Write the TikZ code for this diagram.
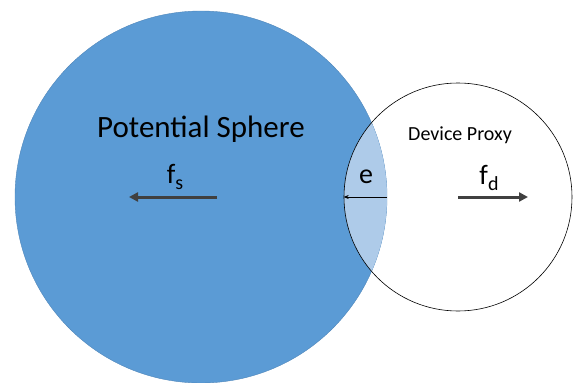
\documentclass[tikz,border=0pt]{standalone}
\usepackage{fontspec}
\setmainfont{Carlito}
\usetikzlibrary{arrows.meta}
\definecolor{sphereblue}{HTML}{5B9BD5}
\definecolor{sphereedge}{HTML}{4F86BA}
\definecolor{overlapblue}{HTML}{AECBE9}
\definecolor{forcegray}{HTML}{404040}
\newcommand{\lowsub}[1]{\raisebox{-6pt}{\fontsize{20}{24}\selectfont #1}}
\tikzset{
  forcearrow/.style={line width=3pt, color=forcegray, -{Triangle[length=9pt,width=9pt]}},
  gaparrow/.style={line width=0.6pt, color=black, -{Stealth[length=5pt,width=4pt]}},
  lbl/.style={inner sep=0pt, text=black}
}
\begin{document}
\begin{tikzpicture}[x=1pt,y=-1pt]
  \useasboundingbox (0,0) rectangle (582,383);
  % potential sphere
  \fill[sphereblue] (201,197) circle (186);
  \draw[sphereedge, line width=0.4pt] (201,197) circle (186);
  % overlap with the device proxy
  \begin{scope}
    \clip (201,197) circle (186);
    \fill[overlapblue] (458,197) circle (114);
  \end{scope}
  % device proxy
  \node[circle, draw=black, line width=0.6pt, minimum size=228pt, inner sep=0pt] (proxy) at (458,197) {};
  \node[circle, minimum size=372pt, inner sep=0pt] (sphere) at (201,197) {};
  % labels
  \node[lbl, font=\fontsize{31}{36}\selectfont] (ps) at (201,129) {Potential Sphere};
  \node[lbl, font=\fontsize{20}{24}\selectfont] (dp) at (460,135) {Device Proxy};
  \node[lbl, font=\fontsize{28}{32}\selectfont] (elbl) at (366,177) {e};
  \node[lbl, font=\fontsize{28}{32}\selectfont] (fslbl) at (175,177) {f\lowsub{s}};
  \node[lbl, font=\fontsize{28}{32}\selectfont] (fdlbl) at (489,178) {f\lowsub{d}};
  % force arrows
  \coordinate (fsa) at (217,197);
  \coordinate (fsb) at (129,197);
  \coordinate (fda) at (458,197);
  \coordinate (fdb) at (528,197);
  \draw[forcearrow] (fsa) -- (fsb);
  \draw[forcearrow] (fda) -- (fdb);
  % penetration depth
  \draw[gaparrow] (sphere.east) -- (proxy.west);
\end{tikzpicture}
\end{document}
